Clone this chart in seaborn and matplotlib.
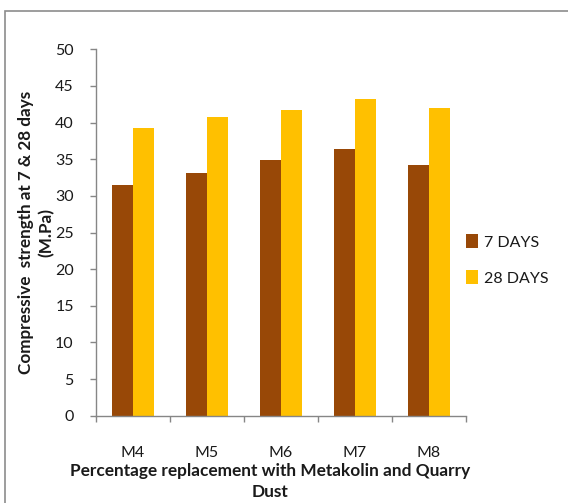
import matplotlib
matplotlib.use("Agg")
import matplotlib.pyplot as plt
import seaborn as sns
import pandas as pd
from matplotlib.patches import Rectangle
from matplotlib.ticker import FixedLocator

categories = ["M4", "M5", "M6", "M7", "M8"]
days7 = [31.5, 33.15, 34.9, 36.4, 34.25]
days28 = [39.25, 40.75, 41.7, 43.2, 41.95]
series_names = ["7 DAYS", "28 DAYS"]
yticks = [0, 5, 10, 15, 20, 25, 30, 35, 40, 45, 50]

df = pd.DataFrame({
    "cat": categories * 2,
    "val": days7 + days28,
    "series": [series_names[0]] * len(categories) + [series_names[1]] * len(categories),
})

sns.set_theme(style="white")
plt.rcParams['font.family'] = ['Lato', 'DejaVu Sans']

W, H = 568, 503
fig = plt.figure(figsize=(W / 100, H / 100), dpi=100)
ax = fig.add_axes([96 / W, (H - 415.7) / H, (466 - 96) / W, (415.7 - 49.3) / H])

sns.barplot(data=df, x="cat", y="val", hue="series", order=categories,
            hue_order=series_names, palette=["#984807", "#FFC000"],
            width=0.57, gap=0, saturation=1, ax=ax, legend=True, linewidth=0)

ax.set_ylim(0, 50)
ax.set_xlim(-0.5, 4.5)
ax.set_yticks(yticks)
ax.set_yticklabels([str(t) for t in yticks], fontsize=11.5, color="#1a1a1a")
ax.tick_params(axis="y", length=4, width=1, color="#868686", direction="out", pad=12, left=True)
ax.tick_params(axis="x", which="major", length=0, pad=22, labelsize=11.5, labelcolor="#1a1a1a")
ax.xaxis.set_minor_locator(FixedLocator([-0.5, 0.5, 1.5, 2.5, 3.5, 4.5]))
ax.tick_params(axis="x", which="minor", length=4, width=1, color="#868686", direction="out", bottom=True)

for s in ["top", "right"]:
    ax.spines[s].set_visible(False)
for s in ["left", "bottom"]:
    ax.spines[s].set_color("#868686")
    ax.spines[s].set_linewidth(1)

ax.set_ylabel("Compressive  strength at 7 & 28 days\n(M.Pa)", fontsize=12.3,
              fontweight="bold", color="#1a1a1a", linespacing=1.35)
ax.yaxis.set_label_coords(-(96 - 55) / (466 - 96), 0.5)
ax.set_xlabel("Percentage replacement with Metakolin and Quarry\nDust", fontsize=12.4,
              fontweight="bold", color="#1a1a1a", linespacing=1.45)
ax.xaxis.set_label_coords((270 - 96) / (466 - 96), -0.128)

leg = ax.legend(loc="center left", bbox_to_anchor=(460 / W, (H - 260) / H),
                bbox_transform=fig.transFigure, frameon=False, fontsize=11.5,
                handlelength=0.75, handleheight=0.9, handletextpad=0.35,
                labelspacing=1.3, borderaxespad=0)
for t in leg.get_texts():
    t.set_color("#1a1a1a")

fig.patches.append(Rectangle((5 / W, -0.1), 1.2, (H - 11) / H + 0.1,
                             transform=fig.transFigure, fill=False,
                             edgecolor="#8c8c8c", linewidth=1.2))

fig.savefig("out.png", dpi=100, facecolor="white")
